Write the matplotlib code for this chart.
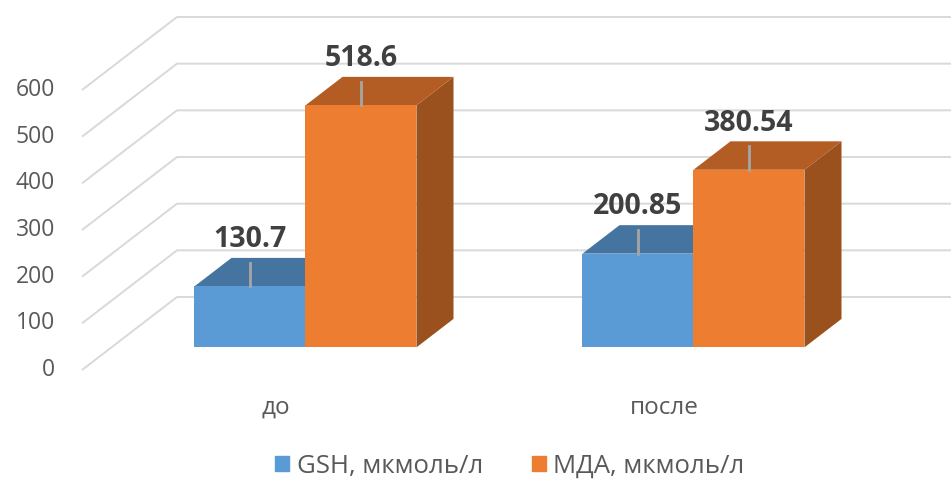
import matplotlib.pyplot as plt
from matplotlib.patches import Polygon, Patch

categories = ["до", "после"]
series_names = ["GSH, мкмоль/л", "МДА, мкмоль/л"]
gsh = [130.7, 200.85]
mda = [518.6, 380.54]
y_ticks = [0, 100, 200, 300, 400, 500, 600]

front_colors = ["#5b9bd5", "#ed7d31"]
top_colors = ["#44749f", "#b35d24"]
side_colors = ["#3a6690", "#9a511d"]

plt.rcParams['font.family'] = ['Open Sans', 'DejaVu Sans']

fig = plt.figure(figsize=(9.51, 4.88), dpi=100)
ax = fig.add_axes([0, 0, 1, 1])
# one category = 388 px, 100 units = 46.67 px, front-plane zero at y=370 px
k = 280 / 600
ax.set_xlim(-0.5 - 82 / 388, -0.5 + (951 - 82) / 388)
ax.set_ylim(-(488 - 370) / k, 370 / k)
ax.axis('off')

# oblique depth of the chart box in data units
DX = 95 / 388
DY = 73 / k

# walls / gridlines
for v in y_ticks:
    ax.plot([-0.5, -0.5 + DX, 1.5 + DX], [v, v + DY, v + DY],
            color="#d9d9d9", lw=1.4, zorder=0, solid_capstyle='butt')
    ax.text(-0.5 - 27 / 388, v, str(v), ha='right', va='center',
            fontsize=16.5, color="#595959")

for i, c in enumerate(categories):
    ax.text(i, -81, c, ha='center', va='center', fontsize=17.5, color="#595959")

w = 111 / 388
d0 = 0.31   # depth of bar front
dd = 0.39   # bar depth
for j, vals in enumerate([gsh, mda]):
    for i, v in enumerate(vals):
        xl = i - w + j * w + d0 * DX
        xr = xl + w
        b = d0 * DY
        t = v + b
        z = 2 + 2 * i + j
        ax.add_patch(Polygon([(xr, b), (xr, t), (xr + dd * DX, t + dd * DY),
                              (xr + dd * DX, b + dd * DY)],
                             closed=True, fc=side_colors[j], ec='none', zorder=z))
        ax.add_patch(Polygon([(xl, t), (xr, t), (xr + dd * DX, t + dd * DY),
                              (xl + dd * DX, t + dd * DY)],
                             closed=True, fc=top_colors[j], ec='none', zorder=z))
        ax.bar(xl, v, bottom=b, width=w, align='edge', color=front_colors[j],
               zorder=z)
        cx = xl + w / 2
        ax.plot([cx, cx], [t, t + 50], color="#a6a6a6", lw=2, zorder=10)
        ax.text(cx, t + 100, f"{v:g}", ha='center', va='center', fontsize=20.5,
                fontweight='bold', color="#404040", zorder=11)

handles = [Patch(color=front_colors[j], label=series_names[j]) for j in range(2)]
fig.legend(handles=handles, loc='center', bbox_to_anchor=(0.536, 1 - 466 / 488),
           ncol=2, frameon=False, fontsize=18.5, labelcolor="#595959",
           handlelength=0.55, handleheight=0.55, handletextpad=0.3, columnspacing=1.9)

fig.savefig("out.png", dpi=100)
